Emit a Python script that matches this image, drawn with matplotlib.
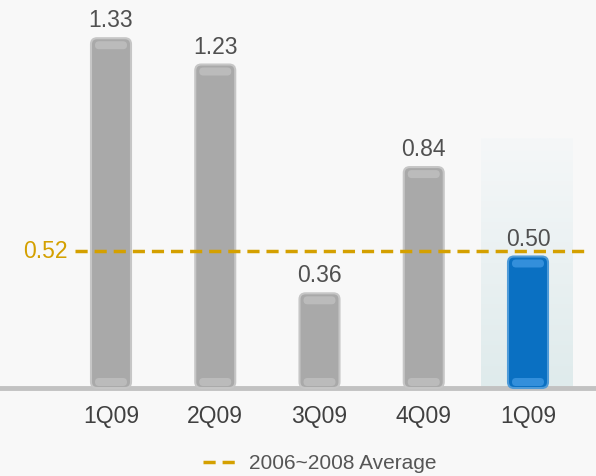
import numpy as np
import matplotlib.pyplot as plt
from matplotlib.colors import LinearSegmentedColormap
from matplotlib.patches import FancyBboxPatch
from matplotlib.lines import Line2D

# data
quarters = ["1Q09", "2Q09", "3Q09", "4Q09", "1Q09"]
values = [1.33, 1.23, 0.36, 0.84, 0.50]
avg_value = 0.52
avg_label = "2006~2008 Average"

COL_BAR = "#a9a9a9"
COL_BAR_EDGE = "#c6c6c6"
COL_HI = "#0a70c2"
COL_HI_EDGE = "#4f9bd8"
COL_AVG = "#d4a000"
COL_TXT = "#505050"

plt.rcParams["font.family"] = ["Liberation Sans", "DejaVu Sans"]

W, H = 596, 476
fig = plt.figure(figsize=(W / 100, H / 100), dpi=100)
fig.patch.set_facecolor("#f8f8f8")
ax = fig.add_axes([0, 0, 1, 1])
ax.set_facecolor("#f8f8f8")

# pixel scales for the axes
px_x = 104.25
px_y = 263.0
x0_px, base_px = 111, 88
ax.set_xlim(-x0_px / px_x, (W - x0_px) / px_x)
ax.set_ylim(-base_px / px_y, (H - base_px) / px_y)
ax.axis("off")

bw = 40 / px_x
aspect = px_x / px_y
xs = np.arange(len(values))

# highlighted column background (gradient)
grad = np.linspace(0, 1, 100).reshape(-1, 1)
ax.imshow(grad, extent=(xs[-1] - 47 / px_x, xs[-1] + 45 / px_x, 0, 0.95),
          cmap=LinearSegmentedColormap.from_list("bg", ["#dfebec", "#f5f7f8"]),
          origin="lower", aspect="auto", zorder=0)

for i, (x, v) in enumerate(zip(xs, values)):
    last = i == len(values) - 1
    face = COL_HI if last else COL_BAR
    edge = COL_HI_EDGE if last else COL_BAR_EDGE
    bar = FancyBboxPatch((x - bw / 2, 0), bw, v,
                         boxstyle="round,pad=0,rounding_size=%f" % (6 / px_x),
                         mutation_aspect=aspect,
                         facecolor=face, edgecolor=edge, linewidth=1.5, zorder=2)
    ax.add_patch(bar)
    # soft glossy caps at top and bottom
    hl = "#3e98e2" if last else "#c0c0c0"
    for yy in (v - 11 / px_y, 2 / px_y):
        cap = FancyBboxPatch((x - bw / 2 + 4 / px_x, yy), bw - 8 / px_x, 8 / px_y,
                             boxstyle="round,pad=0,rounding_size=%f" % (4 / px_x),
                             mutation_aspect=aspect,
                             facecolor=hl, edgecolor="none", alpha=0.8, zorder=3)
        ax.add_patch(cap)
    ax.text(x, v + 11 / px_y, f"{v:.2f}", ha="center", va="baseline",
            fontsize=16.5, color=COL_TXT, zorder=4)
    ax.text(x, -35 / px_y, quarters[i], ha="center", va="baseline",
            fontsize=16.5, color="#404040")

# baseline
ax.axhline(0, color="#c2c2c2", linewidth=3.5, zorder=1)

# average line
ax.plot([-36 / px_x, (590 - x0_px) / px_x], [avg_value, avg_value],
        color=COL_AVG, linestyle=(0, (3.5, 2)), linewidth=2.5, zorder=5)
ax.text(-43 / px_x, avg_value, f"{avg_value:.2f}", ha="right", va="center",
        fontsize=16.5, color=COL_AVG)

# legend
handle = Line2D([], [], color=COL_AVG, linestyle=(0, (3.5, 2)), linewidth=2.5)
leg = fig.legend([handle], [avg_label], loc="center", bbox_to_anchor=(0.536, 0.026),
                 frameon=False, fontsize=15, handlelength=1.7, handletextpad=0.5)
for t in leg.get_texts():
    t.set_color("#555555")

fig.savefig("out.png", dpi=100, facecolor=fig.get_facecolor())
